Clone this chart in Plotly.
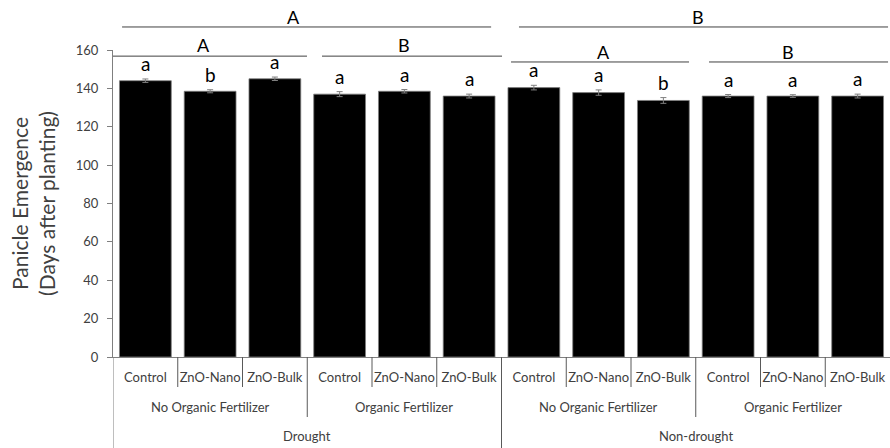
import plotly.graph_objects as go

# ---- data ----
treatments = ["Control", "ZnO-Nano", "ZnO-Bulk"] * 4
fertilizers = ["No Organic Fertilizer", "Organic Fertilizer", "No Organic Fertilizer", "Organic Fertilizer"]
water_regimes = ["Drought", "Non-drought"]
values = [144, 138.5, 145, 137, 138.5, 136, 140.4, 137.8, 133.7, 136, 136, 136]
errors = [0.9, 0.8, 0.9, 1.3, 0.9, 1.0, 1.2, 1.4, 1.5, 0.8, 0.7, 1.0]
bar_letters = ["a", "b", "a", "a", "a", "a", "a", "a", "b", "a", "a", "a"]
water_letters = ["A", "B"]
fert_letters = ["A", "B", "A", "B"]
y_ticks = [0, 20, 40, 60, 80, 100, 120, 140, 160]

FONT = "Lato"
TXT = "#404040"
AX = "#7f7f7f"
SEP = "#595959"

x = list(range(len(values)))

fig = go.Figure()
fig.add_trace(go.Bar(
    x=x, y=values, width=0.8,
    marker=dict(color="black", line=dict(color="#7f7f7f", width=0.8)),
    error_y=dict(type="data", array=errors, visible=True, color="#7f7f7f", thickness=1, width=3),
    hoverinfo="skip",
))

annotations = []
shapes = []

# bar letters
for i, (v, e, t) in enumerate(zip(values, errors, bar_letters)):
    annotations.append(dict(x=i, y=v + e, xref="x", yref="y", text=t, showarrow=False,
                            yanchor="bottom", yshift=2, font=dict(family=FONT, size=19, color="black")))

# water-regime (top) lines and letters: (x0, x1, letter x)
top_lines = [(-0.36, 5.34, 2.28), (5.77, 11.47, 8.535)]
for (x0, x1, lx), lt in zip(top_lines, water_letters):
    shapes.append(dict(type="line", xref="x", yref="paper", x0=x0, x1=x1, y0=1.075, y1=1.075,
                       line=dict(color="#404040", width=1)))
    annotations.append(dict(x=lx, y=1.1075, xref="x", yref="paper", text=lt, showarrow=False,
                            yanchor="middle", font=dict(family=FONT, size=18, color="black")))

# fertilizer lines and letters: (x0, x1, letter x, line y, letter y)
fert_lines = [(-0.5, 2.496, 0.89, 0.980, 1.016), (2.728, 5.508, 3.994, 0.980, 1.016),
              (5.647, 8.396, 7.068, 0.961, 0.993), (8.705, 11.47, 9.925, 0.961, 0.993)]
for (x0, x1, lx, yy, ly), lt in zip(fert_lines, fert_letters):
    shapes.append(dict(type="line", xref="x", yref="paper", x0=x0, x1=x1, y0=yy, y1=yy,
                       line=dict(color="#404040", width=1)))
    annotations.append(dict(x=lx, y=ly, xref="x", yref="paper", text=lt, showarrow=False,
                            yanchor="middle", font=dict(family=FONT, size=18, color="black")))

# category separators below axis
PH = 307.0  # plot height in px
def py(px_below):
    return -px_below / PH

for b in range(len(values)):
    xb = b - 0.5
    if b % 6 == 0:
        depth = 91
    elif b % 3 == 0:
        depth = 60
    else:
        depth = 30
    shapes.append(dict(type="line", xref="x", yref="paper", x0=xb, x1=xb, y0=0, y1=py(depth),
                       line=dict(color=SEP if b else AX, width=1)))

# fertilizer labels
for k, f in enumerate(fertilizers):
    annotations.append(dict(x=k * 3 + 1, y=py(50), xref="x", yref="paper", text=f, showarrow=False,
                            yanchor="middle", font=dict(family=FONT, size=13, color=TXT)))
# water labels
for k, w in enumerate(water_regimes):
    annotations.append(dict(x=k * 6 + 2.5, y=py(79), xref="x", yref="paper", text=w, showarrow=False,
                            yanchor="middle", font=dict(family=FONT, size=13, color=TXT)))

fig.update_layout(
    width=890, height=448,
    margin=dict(l=113, r=0, t=50, b=91),
    paper_bgcolor="white", plot_bgcolor="white",
    showlegend=False,
    bargap=0.2,
    annotations=annotations,
    shapes=shapes,
    font=dict(family=FONT, color=TXT),
)
fig.update_xaxes(
    range=[-0.5, 11.5], tickmode="array", tickvals=x, ticktext=treatments,
    ticks="", showline=True, linecolor=AX, linewidth=1, showgrid=False, zeroline=False,
    tickfont=dict(family=FONT, size=13, color=TXT), ticklabelstandoff=8,
)
fig.update_yaxes(
    range=[0, 160], tickmode="array", tickvals=y_ticks,
    ticks="outside", ticklen=5, tickcolor=AX, showline=True, linecolor=AX, linewidth=1,
    showgrid=False, zeroline=False,
    tickfont=dict(family=FONT, size=13, color=TXT), ticklabelstandoff=6,
    title=dict(text="Panicle Emergence<br>(Days after planting)", standoff=14,
               font=dict(family=FONT, size=21, color=TXT)),
)

fig.write_html("out.html")
